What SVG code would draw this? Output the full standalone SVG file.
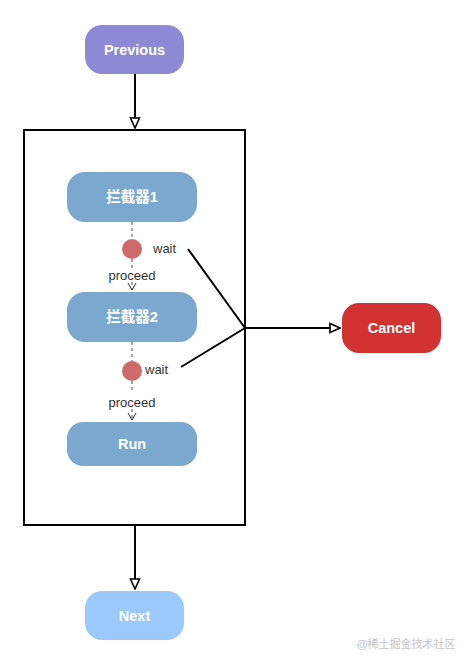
<svg xmlns="http://www.w3.org/2000/svg" width="466" height="666" viewBox="0 0 466 666">
<defs>
<marker id="tri" viewBox="0 0 12 12" refX="11" refY="6" markerWidth="12" markerHeight="12" markerUnits="userSpaceOnUse" orient="auto">
<path d="M1,1.5 L11,6 L1,10.5 Z" fill="#fff" stroke="#000" stroke-width="1.6"/>
</marker>
<marker id="vee" viewBox="0 0 10 10" refX="9" refY="5" markerWidth="10" markerHeight="10" markerUnits="userSpaceOnUse" orient="auto">
<path d="M2,1 L9,5 L2,9" fill="none" stroke="#333" stroke-width="1"/>
</marker>
<style>
.lbl{font-family:"Liberation Sans","Noto Sans CJK SC",sans-serif;font-size:14.5px;fill:#fff;text-anchor:middle;font-weight:bold}
.small{font-family:"Liberation Sans",sans-serif;font-size:13px;fill:#333}
.edge{stroke:#000;stroke-width:2;fill:none}
.dash{stroke:#888;stroke-width:1.5;stroke-dasharray:3,3;fill:none}
.blue{fill:#7ba8cf}
.dot{fill:#cf6a6a}
</style>
</defs>
<rect width="466" height="666" fill="#fff"/>
<g id="container"><rect x="24" y="130" width="221" height="395" fill="none" stroke="#000" stroke-width="2"/></g>
<g id="connectors">
<line class="edge" x1="135" y1="74" x2="135" y2="128" marker-end="url(#tri)"/>
<line class="edge" x1="135" y1="525" x2="135" y2="589" marker-end="url(#tri)"/>
<line class="edge" x1="245" y1="328" x2="340" y2="328" marker-end="url(#tri)"/>
<line class="edge" x1="188" y1="249" x2="245" y2="328"/>
<line class="edge" x1="181" y1="367" x2="245" y2="328"/>
<line class="dash" x1="132" y1="222" x2="132" y2="239"/>
<line class="dash" x1="132" y1="259" x2="132" y2="268"/>
<line class="dash" x1="132" y1="282" x2="132" y2="290" marker-end="url(#vee)"/>
<line class="dash" x1="132" y1="342" x2="132" y2="361"/>
<line class="dash" x1="132" y1="381" x2="132" y2="392"/>
<line class="dash" x1="132" y1="409" x2="132" y2="420" marker-end="url(#vee)"/>
<text class="small" x="132" y="280" text-anchor="middle">proceed</text>
<text class="small" x="132" y="407" text-anchor="middle">proceed</text>
<text class="small" x="153" y="253">wait</text>
<text class="small" x="145" y="374">wait</text>
</g>
<g id="previous"><rect x="85" y="25" width="99" height="49" rx="17" fill="#8d89d5"/><text class="lbl" x="134.5" y="55">Previous</text></g>
<g id="interceptor1"><rect class="blue" x="67" y="172" width="130" height="50" rx="18"/><text class="lbl" x="132" y="202">拦截器1</text></g>
<g id="wait1"><circle class="dot" cx="132" cy="249" r="10"/></g>
<g id="interceptor2"><rect class="blue" x="67" y="292" width="130" height="50" rx="18"/><text class="lbl" x="132" y="322">拦截器2</text></g>
<g id="wait2"><circle class="dot" cx="132" cy="371" r="10"/></g>
<g id="run"><rect class="blue" x="67" y="422" width="130" height="44" rx="16"/><text class="lbl" x="132" y="449">Run</text></g>
<g id="cancel"><rect x="342" y="303" width="99" height="50" rx="17" fill="#d33232"/><text class="lbl" x="391.5" y="333">Cancel</text></g>
<g id="next"><rect x="85" y="591" width="99" height="49" rx="17" fill="#9bc9fb"/><text class="lbl" x="134.5" y="621">Next</text></g>
<text x="406" y="648" font-family="'Liberation Sans','Noto Sans CJK SC',sans-serif" font-size="11" fill="#c4c4c4" text-anchor="middle">@稀土掘金技术社区</text>
</svg>
